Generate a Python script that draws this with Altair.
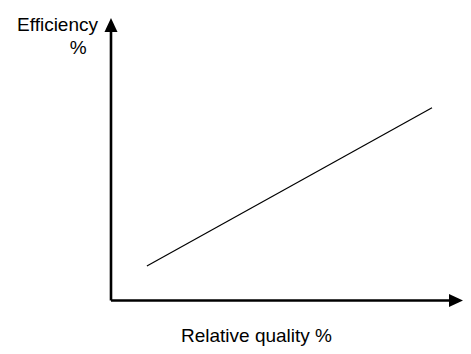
import altair as alt
import pandas as pd

# Data values
quality = [10.2, 91.2]
efficiency = [12.2, 68.2]

# Axis geometry (data units)
X_DOMAIN = [-29.26, 100.0]
Y_DOMAIN = [-14.69, 103.5]
axis_x = [0, 100]
axis_y = [0, 100]

# Labels
label_texts = ["Efficiency", "%", "Relative quality %"]
label_x = [-3.69, -9.29, 41.34]
label_y = [95.45, 87.06, -14.58]
label_align = ["right", "center", "center"]

xs = alt.Scale(domain=X_DOMAIN, nice=False, zero=False)
ys = alt.Scale(domain=Y_DOMAIN, nice=False, zero=False)

line_df = pd.DataFrame({"q": quality, "e": efficiency})
line = alt.Chart(line_df).mark_line(color="black", strokeWidth=1.2).encode(
    x=alt.X("q:Q", scale=xs, axis=None),
    y=alt.Y("e:Q", scale=ys, axis=None),
)

xaxis_df = pd.DataFrame({"x": [axis_x[0]], "x2": [axis_x[1] - 3], "y": [0]})
xaxis = alt.Chart(xaxis_df).mark_rule(color="black", strokeWidth=2.6).encode(
    x=alt.X("x:Q", scale=xs, axis=None), x2="x2:Q", y=alt.Y("y:Q", scale=ys, axis=None)
)
yaxis_df = pd.DataFrame({"x": [0], "y": [axis_y[0]], "y2": [axis_y[1] - 4]})
yaxis = alt.Chart(yaxis_df).mark_rule(color="black", strokeWidth=2.6).encode(
    x=alt.X("x:Q", scale=xs, axis=None), y=alt.Y("y:Q", scale=ys, axis=None), y2="y2:Q"
)

up_df = pd.DataFrame({"x": [0], "y": [axis_y[1]]})
up = alt.Chart(up_df).mark_point(
    shape="M0,0L0.93,2L-0.93,2Z", filled=True, color="black", size=196, opacity=1
).encode(x=alt.X("x:Q", scale=xs, axis=None), y=alt.Y("y:Q", scale=ys, axis=None))

right_df = pd.DataFrame({"x": [axis_x[1]], "y": [0]})
right = alt.Chart(right_df).mark_point(
    shape="M0,0L-2,-0.93L-2,0.93Z", filled=True, color="black", size=196, opacity=1
).encode(x=alt.X("x:Q", scale=xs, axis=None), y=alt.Y("y:Q", scale=ys, axis=None))

layers = [line, xaxis, yaxis, up, right]
for t, lx, ly, al in zip(label_texts, label_x, label_y, label_align):
    df = pd.DataFrame({"x": [lx], "y": [ly], "t": [t]})
    layers.append(
        alt.Chart(df).mark_text(
            font="Liberation Sans", fontSize=19, color="black", align=al, baseline="alphabetic"
        ).encode(
            x=alt.X("x:Q", scale=xs, axis=None),
            y=alt.Y("y:Q", scale=ys, axis=None),
            text="t:N",
        )
    )

chart = alt.layer(*layers).properties(
    width=455, height=338,
    autosize=alt.AutoSizeParams(type="fit", contains="padding"),
    padding=0,
).configure_view(stroke=None)

chart.save("out.html", embed_options={"renderer": "svg", "actions": False})
